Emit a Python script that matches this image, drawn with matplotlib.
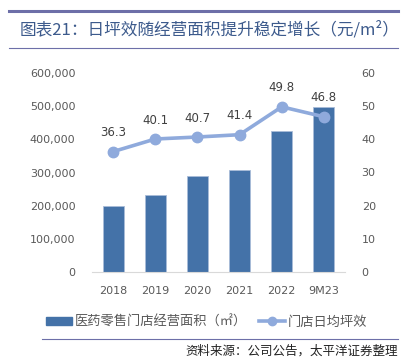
import matplotlib
matplotlib.use("Agg")
import matplotlib.pyplot as plt
from matplotlib.lines import Line2D
from matplotlib.patches import Patch

plt.rcParams['font.family'] = ['Noto Sans CJK SC', 'DejaVu Sans']

categories = ['2018', '2019', '2020', '2021', '2022', '9M23']
area = [199000, 233000, 288000, 308000, 425000, 496000]
efficiency = [36.3, 40.1, 40.7, 41.4, 49.8, 46.8]
left_ticks = [0, 100000, 200000, 300000, 400000, 500000, 600000]
right_ticks = [0, 10, 20, 30, 40, 50, 60]

title = '图表21：日坪效随经营面积提升稳定增长（元/m²）'
bar_label = '医药零售门店经营面积（㎡）'
line_label = '门店日均坪效'
source = '资料来源：公司公告，太平洋证券整理'

bar_color = '#4472A8'
line_color = '#8FAADC'
text_grey = '#595959'
rule_color = '#6D6FA8'
num_font = ['DejaVu Sans']

fig = plt.figure(figsize=(4.05, 3.63), dpi=100)
W, H = 405, 363

ax = fig.add_axes([92 / W, 1 - 272 / H, 253 / W, 199 / H])
x = list(range(len(categories)))
ax.bar(x, area, width=0.5, color=bar_color, edgecolor='#A9BCD8', linewidth=0.6, zorder=2)
ax.set_xlim(-0.5, len(categories) - 0.5)
ax.set_ylim(0, 600000)
ax.set_yticks(left_ticks)
ax.set_yticklabels([f'{v:,}' for v in left_ticks], family=num_font)
ax.set_xticks(x)
ax.set_xticklabels(categories, family=num_font)
for s in ['top', 'right', 'left']:
    ax.spines[s].set_visible(False)
ax.spines['bottom'].set_color('#D9D9D9')
ax.tick_params(axis='both', length=0, labelsize=8, colors=text_grey)
ax.tick_params(axis='y', pad=12)
ax.tick_params(axis='x', pad=10)

ax2 = ax.twinx()
ax2.plot(x, efficiency, color=line_color, linewidth=2.6, marker='o', markersize=7.5, zorder=3)
ax2.set_ylim(0, 60)
ax2.set_yticks(right_ticks)
ax2.set_yticklabels([str(v) for v in right_ticks], family=num_font)
for s in ['top', 'right', 'left', 'bottom']:
    ax2.spines[s].set_visible(False)
ax2.tick_params(axis='y', length=0, labelsize=8, colors=text_grey, pad=12)
for xi, v in zip(x, efficiency):
    ax2.annotate(f'{v:.1f}', (xi, v), xytext=(0, 9), textcoords='offset points',
                 ha='center', va='bottom', fontsize=8.5, color='#404040', family=num_font)

# rules
fig.add_artist(Line2D([9 / W, 398 / W], [1 - 10.7 / H] * 2, color=rule_color, linewidth=2.2))
fig.add_artist(Line2D([9 / W, 398 / W], [1 - 48 / H] * 2, color=rule_color, linewidth=0.8))
fig.add_artist(Line2D([42 / W, 398 / W], [1 - 339 / H] * 2, color=rule_color, linewidth=0.8))

fig.text(20 / W, 1 - 30 / H, title, ha='left', va='center', fontsize=12, color='#3C5A8C')
fig.text(398 / W, 1 - 351 / H, source, ha='right', va='center', fontsize=9, color='#222222',
         style='italic')

handles = [Patch(facecolor=bar_color, edgecolor=bar_color),
           Line2D([0], [0], color=line_color, linewidth=2.6, marker='o', markersize=6)]
fig.legend(handles, [bar_label, line_label], loc='center', bbox_to_anchor=(0.51, 1 - 322 / H),
           ncol=2, frameon=False, fontsize=9.5, labelcolor=text_grey, handlelength=2.0,
           handleheight=0.5, handletextpad=0.2, columnspacing=0.9)

fig.savefig('out.png', dpi=100)
